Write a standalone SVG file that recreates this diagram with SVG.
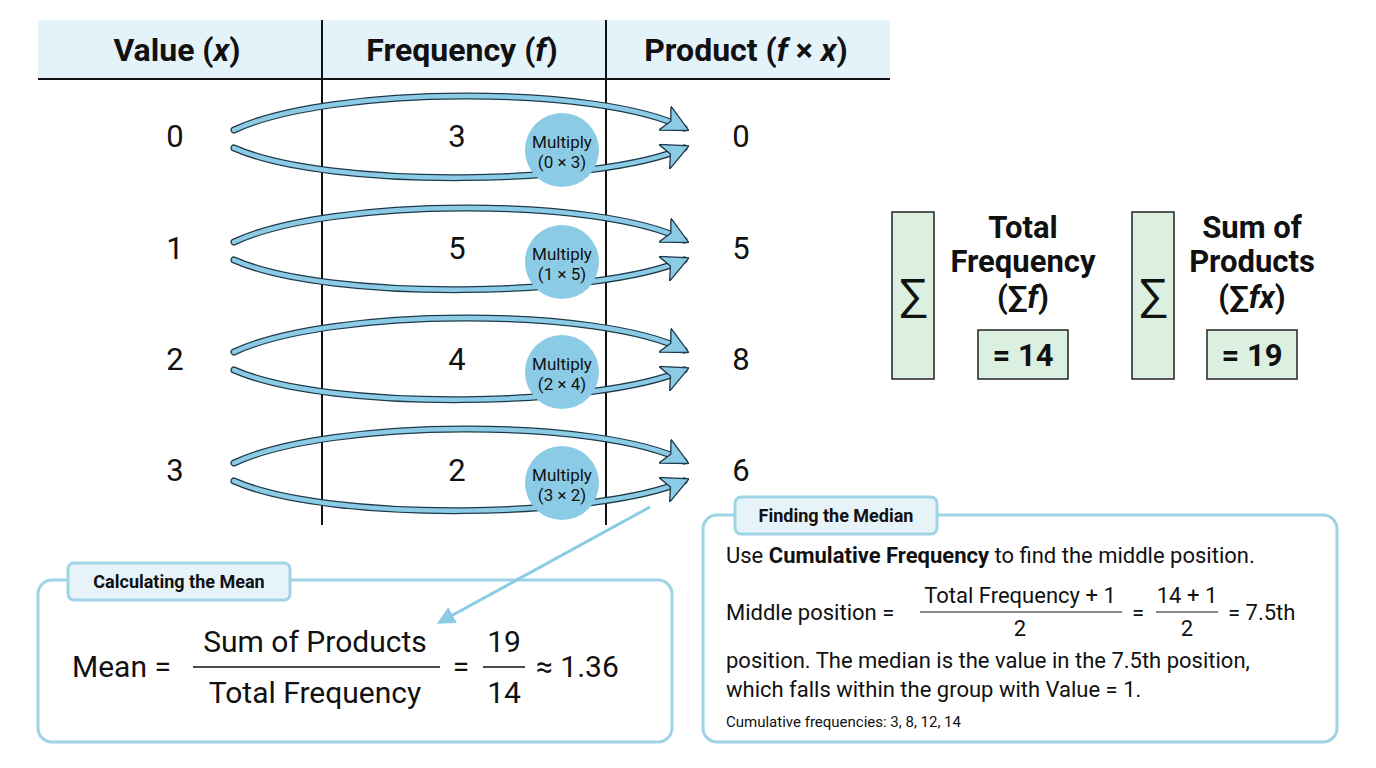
<svg xmlns="http://www.w3.org/2000/svg" width="1376" height="768" viewBox="0 0 1376 768">
<defs>
<marker id="ah" viewBox="0 0 10 10" refX="8" refY="5" markerWidth="6" markerHeight="6" orient="auto" markerUnits="strokeWidth">
<path d="M0,0 L10,5 L0,10 L2.5,5 Z" fill="#8ccbe6" stroke="#1e3a4a" stroke-width="0.5"/>
</marker>
<marker id="ah2" viewBox="0 0 10 10" refX="8" refY="5" markerWidth="6" markerHeight="6" orient="auto">
<path d="M0,0 L10,5 L0,10 Z" fill="#8ccbe6"/>
</marker>
</defs>
<style>
text{font-family:Roboto,"Liberation Sans",sans-serif;fill:#111}
.h{font-size:32px;font-weight:bold;text-anchor:middle}
.n{font-size:31px;text-anchor:middle}
.m{font-size:17px;text-anchor:middle}
.out{fill:none;stroke:#1e3a4a;stroke-width:7;stroke-linecap:round}
.in{fill:none;stroke:#8ccbe6;stroke-width:4.5;stroke-linecap:round}
.c{fill:#8ccbe6}
.box{fill:#fff;stroke:#9fd3e6;stroke-width:3}
.tag{fill:#e6f4fa;stroke:#9fd3e6;stroke-width:3}
.tt{font-size:18px;font-weight:bold}
.g{fill:#dcf0e2;stroke:#222;stroke-width:1.5}
.bt{font-size:31px;font-weight:bold;text-anchor:middle}
.t{font-size:22px}
.f{font-size:30px}
</style>
<rect width="1376" height="768" fill="#fff"/>
<g id="table">
<rect x="38" y="20" width="852" height="60" fill="#e4f2f9"/>
<line x1="38" y1="79" x2="890" y2="79" stroke="#111" stroke-width="2"/>
<line x1="322" y1="20" x2="322" y2="525" stroke="#111" stroke-width="2"/>
<line x1="606" y1="20" x2="606" y2="525" stroke="#111" stroke-width="2"/>
<text class="h" x="177" y="61">Value (<tspan font-style="italic">x</tspan>)</text>
<text class="h" x="462" y="61">Frequency (<tspan font-style="italic">f</tspan>)</text>
<text class="h" x="746" y="61">Product (<tspan font-style="italic">f</tspan> × <tspan font-style="italic">x</tspan>)</text>
<text class="n" x="175" y="147">0</text><text class="n" x="457" y="147">3</text><text class="n" x="741" y="147">0</text>
<text class="n" x="175" y="259">1</text><text class="n" x="457" y="259">5</text><text class="n" x="741" y="259">5</text>
<text class="n" x="175" y="370">2</text><text class="n" x="457" y="370">4</text><text class="n" x="741" y="370">8</text>
<text class="n" x="175" y="481">3</text><text class="n" x="457" y="481">2</text><text class="n" x="741" y="481">6</text>
</g>
<g id="total">
<rect class="g" x="892" y="212" width="42" height="167"/>
<text x="913" y="312" font-size="46" text-anchor="middle">∑</text>
<text class="bt" x="1023" y="238">Total</text>
<text class="bt" x="1023" y="272">Frequency</text>
<text class="bt" x="1023" y="308">(∑<tspan font-style="italic">f</tspan>)</text>
<rect class="g" x="978" y="330" width="90" height="49"/>
<text class="bt" x="1023" y="366">= 14</text>
</g>
<g id="sum">
<rect class="g" x="1132" y="212" width="42" height="167" fill="#cfead8"/>
<text x="1153" y="312" font-size="46" text-anchor="middle">∑</text>
<text class="bt" x="1252" y="238">Sum of</text>
<text class="bt" x="1252" y="272">Products</text>
<text class="bt" x="1252" y="308">(∑<tspan font-style="italic">fx</tspan>)</text>
<rect class="g" x="1207" y="330" width="90" height="49"/>
<text class="bt" x="1252" y="366">= 19</text>
</g>
<g id="mean">
<rect class="box" x="38" y="580" width="634" height="162" rx="14"/>
<rect class="tag" x="68" y="563" width="222" height="37" rx="6"/>
<text class="tt" x="179" y="588" text-anchor="middle">Calculating the Mean</text>
<text class="f" x="72" y="677">Mean =</text>
<text class="f" x="315" y="652" text-anchor="middle">Sum of Products</text>
<line x1="193" y1="667" x2="440" y2="667" stroke="#111" stroke-width="1.5"/>
<text class="f" x="315" y="703" text-anchor="middle">Total Frequency</text>
<text class="f" x="461" y="677" text-anchor="middle">=</text>
<text class="f" x="504" y="652" text-anchor="middle">19</text>
<line x1="483" y1="667" x2="525" y2="667" stroke="#111" stroke-width="1.5"/>
<text class="f" x="504" y="703" text-anchor="middle">14</text>
<text class="f" x="536" y="677">≈ 1.36</text>
</g>
<g id="median">
<rect class="box" x="703" y="515" width="634" height="227" rx="14"/>
<rect class="tag" x="735" y="497" width="202" height="37" rx="6"/>
<text class="tt" x="836" y="522" text-anchor="middle">Finding the Median</text>
<text class="t" x="726" y="563">Use <tspan font-weight="bold">Cumulative Frequency</tspan> to find the middle position.</text>
<text class="t" x="726" y="620">Middle position =</text>
<text class="t" x="1020" y="603" text-anchor="middle">Total Frequency + 1</text>
<line x1="920" y1="612" x2="1122" y2="612" stroke="#111" stroke-width="1.2"/>
<text class="t" x="1020" y="636" text-anchor="middle">2</text>
<text class="t" x="1138" y="620" text-anchor="middle">=</text>
<text class="t" x="1187" y="603" text-anchor="middle">14 + 1</text>
<line x1="1156" y1="612" x2="1218" y2="612" stroke="#111" stroke-width="1.2"/>
<text class="t" x="1187" y="636" text-anchor="middle">2</text>
<text class="t" x="1228" y="620">= 7.5th</text>
<text class="t" x="726" y="668">position. The median is the value in the 7.5th position,</text>
<text class="t" x="726" y="697">which falls within the group with Value = 1.</text>
<text x="726" y="727" font-size="15">Cumulative frequencies: 3, 8, 12, 14</text>
</g>
<g id="connectors">
<g id="r0"><path class="out" d="M234,130 C330,85 600,85 684,128"/><path class="in" d="M234,130 C330,85 600,85 684,128" marker-end="url(#ah)"/>
<path class="out" d="M234,148 C330,190 600,185 684,148"/><path class="in" d="M234,148 C330,190 600,185 684,148" marker-end="url(#ah)"/></g>
<g id="r1" transform="translate(0,112)"><path class="out" d="M234,130 C330,85 600,85 684,128"/><path class="in" d="M234,130 C330,85 600,85 684,128" marker-end="url(#ah)"/>
<path class="out" d="M234,148 C330,190 600,185 684,148"/><path class="in" d="M234,148 C330,190 600,185 684,148" marker-end="url(#ah)"/></g>
<g id="r2" transform="translate(0,222)"><path class="out" d="M234,130 C330,85 600,85 684,128"/><path class="in" d="M234,130 C330,85 600,85 684,128" marker-end="url(#ah)"/>
<path class="out" d="M234,148 C330,190 600,185 684,148"/><path class="in" d="M234,148 C330,190 600,185 684,148" marker-end="url(#ah)"/></g>
<g id="r3" transform="translate(0,333)"><path class="out" d="M234,130 C330,85 600,85 684,128"/><path class="in" d="M234,130 C330,85 600,85 684,128" marker-end="url(#ah)"/>
<path class="out" d="M234,148 C330,190 600,185 684,148"/><path class="in" d="M234,148 C330,190 600,185 684,148" marker-end="url(#ah)"/></g>
<line x1="650" y1="507" x2="440" y2="622" stroke="#8ccbe6" stroke-width="3" marker-end="url(#ah2)"/>
</g>
<g id="mult">
<circle class="c" cx="562" cy="150" r="37"/><text class="m" x="562" y="148">Multiply</text><text class="m" x="562" y="168">(0 × 3)</text>
<circle class="c" cx="562" cy="262" r="37"/><text class="m" x="562" y="260">Multiply</text><text class="m" x="562" y="280">(1 × 5)</text>
<circle class="c" cx="562" cy="372" r="37"/><text class="m" x="562" y="370">Multiply</text><text class="m" x="562" y="390">(2 × 4)</text>
<circle class="c" cx="562" cy="483" r="37"/><text class="m" x="562" y="481">Multiply</text><text class="m" x="562" y="501">(3 × 2)</text>
</g>
</svg>
